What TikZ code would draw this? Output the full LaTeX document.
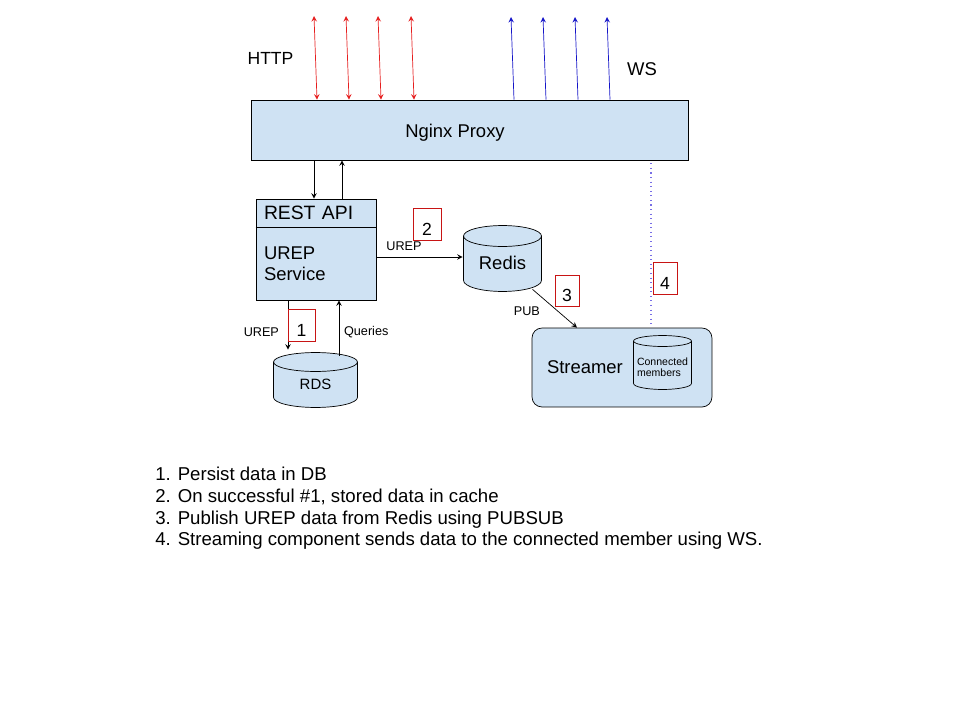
\documentclass[tikz,border=0pt]{standalone}
\usepackage{fontspec}
\setmainfont{Liberation Sans}
\usepackage{xcolor}
\definecolor{boxblue}{HTML}{CFE2F3}
\definecolor{httpred}{RGB}{230,30,30}
\definecolor{wsblue}{RGB}{20,20,200}
\definecolor{dotblue}{RGB}{120,110,230}
\definecolor{numred}{RGB}{200,20,20}
\usetikzlibrary{shapes.geometric,arrows.meta,positioning}
\tikzset{>=stealth}
\tikzset{%
    block/.style={draw, fill=boxblue, inner sep=0pt},
    store/.style n args={3}{minimum width=#1, minimum height=#2, inner sep=0pt,
        path picture={
            \draw[fill=boxblue]
              ([xshift=0.3pt,yshift=-#3]path picture bounding box.north west)
              -- ([xshift=0.3pt,yshift=#3+0.3pt]path picture bounding box.south west)
              arc[start angle=180, end angle=360, x radius=0.5*#1-0.3pt, y radius=#3]
              -- ([xshift=-0.3pt,yshift=-#3]path picture bounding box.north east)
              arc[start angle=0, end angle=180, x radius=0.5*#1-0.3pt, y radius=#3-0.3pt]
              -- cycle;
            \draw ([xshift=0.3pt,yshift=-#3]path picture bounding box.north west)
              arc[start angle=180, end angle=360, x radius=0.5*#1-0.3pt, y radius=#3-0.3pt];
        }},
    numbox/.style={draw=numred, inner sep=0pt, minimum width=0.5cm, minimum height=0.62cm,
        text height=12.8pt, text depth=0pt, font=\fontsize{10}{12}\selectfont},
    lbl/.style={font=\fontsize{7.2}{8}\selectfont, inner sep=1pt}
}

\begin{document}
\begin{tikzpicture}[x=0.02cm,y=-0.02cm]
\useasboundingbox (0,0) rectangle (960,720);

\node[block, minimum width=8.74cm, minimum height=1.2cm,
      label={[font=\fontsize{10.5}{12}\selectfont, xshift=-0.29cm, yshift=-0.05cm]center:Nginx Proxy}] (nginx) at (469.5,130) {};
\node[font=\fontsize{10}{12}\selectfont] (http) at (270.5,58) {HTTP};
\node[font=\fontsize{10.5}{12}\selectfont] (ws) at (642,69) {WS};

\foreach \x in {314,346,378,411}{
  \coordinate (h\x) at (\x,16);
  \draw[<->,httpred] (h\x) -- ([xshift=0.06cm]h\x |- nginx.north);
}
\foreach \x in {511,543,575,607}{
  \coordinate (w\x) at (\x,17);
  \draw[->,wsblue] ([xshift=0.06cm]w\x |- nginx.north) -- (w\x);
}

\node[block, minimum width=2.4cm, minimum height=0.56cm, text width=2.08cm, align=left,
      font=\fontsize{11}{12}\selectfont] (api) at (316,213) {REST API};
\node[block, minimum width=2.4cm, minimum height=1.46cm, text width=2.08cm, align=left,
      font=\fontsize{10.5}{12}\selectfont] (svc) at (316,263.5) {UREP\\Service};
\draw[thick] (api.south west) -- (api.south east);

\draw[->] ([xshift=-0.04cm]api.north |- nginx.south) -- ([xshift=-0.04cm]api.north);
\draw[->] ([xshift=0.52cm]api.north) -- ([xshift=0.52cm]api.north |- nginx.south);

\node[store={1.58cm}{1.34cm}{0.22cm}, text height=12.3pt, text depth=0pt,
      font=\fontsize{10.5}{12}\selectfont] (redis) at (502.5,258.5) {Redis};
\node[store={1.7cm}{1.12cm}{0.2cm}, text height=10.7pt, text depth=0pt,
      font=\fontsize{8.5}{10}\selectfont] (rds) at (315.5,380) {RDS};

\node[draw, fill=boxblue, rounded corners=0.2cm, minimum width=3.6cm, minimum height=1.58cm,
      text width=3.0cm, align=left, inner sep=0pt, font=\fontsize{10.5}{12}\selectfont] (streamer) at (622,367.5) {Streamer};
\node[store={1.18cm}{1.1cm}{0.12cm},
      label={[font=\fontsize{6}{6.5}\selectfont, align=left, yshift=-0.09cm]center:Connected\\members}] (members) at (662.5,362.5) {};

\draw[->] (svc.east |- 0,257) -- (redis.west |- 0,257) node[lbl, above, pos=0.32, yshift=0.08cm] {UREP};
\draw[->] ([xshift=0.6cm,yshift=0.06cm]redis.south) -- ([xshift=-0.9cm]streamer.north)
    node[lbl, left, pos=0.55, xshift=-0.3cm, yshift=-0.02cm] {PUB};
\draw[dotted, dotblue, line width=0.6pt] ([xshift=0.58cm,yshift=-0.06cm]streamer.north |- nginx.south) -- ([xshift=0.58cm]streamer.north);

\draw[->] ([xshift=-0.55cm]rds.north |- svc.south) -- ([xshift=-0.55cm,yshift=0.04cm]rds.north)
    node[lbl, left, pos=0.65, xshift=-0.14cm] {UREP};
\draw[->] ([xshift=0.47cm,yshift=-0.08cm]rds.north) -- ([xshift=0.47cm]rds.north |- svc.south)
    node[lbl, right, pos=0.42, xshift=0.06cm] {Queries};

\node[numbox, minimum width=0.54cm, minimum height=0.64cm] (n1) at (301.5,325) {1};
\node[numbox, minimum width=0.56cm, minimum height=0.64cm] (n2) at (427,224) {2};
\node[numbox, minimum width=0.48cm, minimum height=0.62cm] (n3) at (567,290.5) {3};
\node[numbox, minimum width=0.48cm, minimum height=0.64cm] (n4) at (665,278) {4};

\node[anchor=north west, align=left, inner sep=0pt, font=\fontsize{10.6}{12.3}\selectfont] (notes) at (155,467)
{1. Persist data in DB\\
2. On successful \#1, stored data in cache\\
3. Publish UREP data from Redis using PUBSUB\\
4. Streaming component sends data to the connected member using WS.};
\end{tikzpicture}
\end{document}
